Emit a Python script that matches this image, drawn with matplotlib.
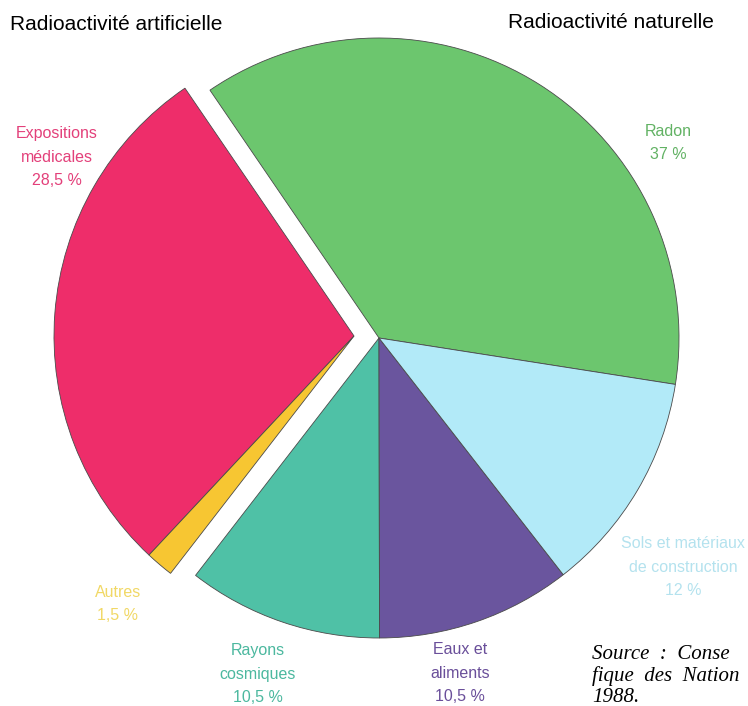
import matplotlib.pyplot as plt

# valeurs (%)
categories = ["Radon", "Expositions\nmédicales", "Autres", "Rayons\ncosmiques", "Eaux et\naliments", "Sols et matériaux\nde construction"]
values = [37, 28.5, 1.5, 10.5, 10.5, 12]
value_labels = ["37 %", "28,5 %", "1,5 %", "10,5 %", "10,5 %", "12 %"]
artificial = [False, True, True, False, False, False]

colors = ["#6cc66e", "#ee2d6a", "#f7c632", "#4fc1a6", "#6a559e", "#b2eaf8"]
text_colors = ["#62b264", "#e3407a", "#f1d865", "#4cb89f", "#6a4f9a", "#b4e2ee"]

# positions des étiquettes (pixels image)
label_pos = [(668, 143), (57, 157), (118, 604), (258, 674), (460, 673), (683, 567)]

W, H = 748, 706
plt.rcParams['font.family'] = ['Liberation Sans', 'DejaVu Sans']

fig = plt.figure(figsize=(W / 100, H / 100), dpi=100)
ax = fig.add_axes([0, 0, 1, 1])

cx, cy = 379, H - 338
wedges, _ = ax.pie(values, colors=colors, startangle=-8.9, counterclock=True,
                   center=(cx, cy), radius=300,
                   wedgeprops=dict(edgecolor="#4a4a4a", linewidth=0.6))

# la radioactivité artificielle est détachée vers la gauche
for w, art in zip(wedges, artificial):
    if art:
        w.set_center((cx - 25, cy + 2))

for name, val, (x, y), c in zip(categories, value_labels, label_pos, text_colors):
    ax.text(x, H - y, name + "\n" + val, color=c, fontsize=11.5,
            ha="center", va="center", linespacing=1.68)

ax.text(10, H - 24, "Radioactivité artificielle", fontsize=15, ha="left", va="center")
ax.text(508, H - 22, "Radioactivité naturelle", fontsize=15, ha="left", va="center")

ax.text(592, H - 676, "Source  :  Conse\nfique  des  Nation\n1988.", fontsize=15,
        family="Liberation Serif", style="italic", ha="left", va="center",
        linespacing=1.12)

ax.set_xlim(0, W)
ax.set_ylim(0, H)
ax.set_aspect("equal")
ax.axis("off")

fig.savefig("out.png", dpi=100)
